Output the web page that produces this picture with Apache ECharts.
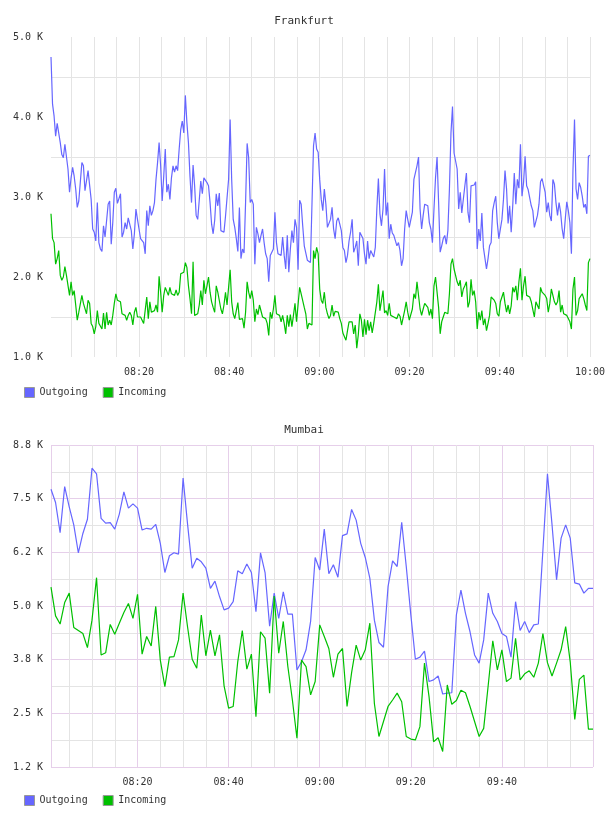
<!DOCTYPE html>
<html>
<head>
<meta charset="utf-8">
<script src="https://cdn.jsdelivr.net/npm/echarts@6/dist/echarts.min.js"></script>
<style>
  html, body { margin: 0; padding: 0; background: #fff; }
  #chart { width: 608px; height: 816px; }
</style>
</head>
<body>
<div id="chart"></div>
<script>
// time on the x axis is minutes after 08:00, values are in thousands
const fraStart = 0.5, fraEnd = 120;
const mumStart = 1, mumEnd = 120;

const fraXTicks = [20, 40, 60, 80, 100, 120];
const fraXLabels = ['08:20', '08:40', '09:00', '09:20', '09:40', '10:00'];
const mumXTicks = [20, 40, 60, 80, 100];
const mumXLabels = ['08:20', '08:40', '09:00', '09:20', '09:40'];

const fraYTicks = [1, 2, 3, 4, 5];
const fraYLabels = ['1.0 K', '2.0 K', '3.0 K', '4.0 K', '5.0 K'];
const mumYTicks = [1.25, 2.5, 3.75, 5, 6.25, 7.5, 8.75];
const mumYLabels = ['1.2 K', '2.5 K', '3.8 K', '5.0 K', '6.2 K', '7.5 K', '8.8 K'];

const fraOutgoing = [
  4.75,4.16,4.01,3.76,3.92,3.92,3.68,3.53,3.49,3.66,
  3.66,3.35,3.06,3.24,3.37,3.26,3.10,2.87,2.95,2.96,
  3.43,3.39,3.08,3.06,3.33,3.35,2.97,2.60,2.56,2.45,
  2.93,2.43,2.35,2.32,2.64,2.50,2.52,2.91,2.95,2.41,
  2.68,3.06,3.11,2.92,2.93,3.04,2.50,2.56,2.68,2.60,
  2.74,2.74,2.58,2.35,2.54,2.85,2.72,2.60,2.48,2.47,
  2.43,2.29,2.83,2.64,2.89,2.77,2.83,2.93,3.22,3.43,
  3.68,3.39,2.95,3.26,3.60,3.06,3.16,2.97,3.24,3.39,
  3.31,3.39,3.33,3.60,3.84,
  3.95,3.80,4.27,3.93,3.68,3.26,2.93,3.40,3.14,2.77,
  2.72,2.74,3.20,3.04,3.24,3.22,3.18,3.14,2.93,2.66,
  2.54,2.71,3.04,2.89,3.05,2.58,2.56,2.56,2.76,2.77,
  3.22,3.97,3.22,2.72,2.62,2.48,2.32,2.87,2.23,2.35,
  2.30,2.93,3.67,3.49,2.93,2.97,2.91,2.16,2.62,2.54,
  2.43,2.52,2.60,2.43,2.29,2.23,1.94,2.27,2.27,2.35,
  2.81,2.43,2.29,2.27,2.27,2.50,2.27,2.10,2.52,2.06,
  2.35,2.58,2.43,2.72,2.62,2.09,2.96,2.91,2.64,2.39,
  2.37,2.21,2.21,2.18,2.16,3.64,
  3.80,3.60,3.56,3.22,2.97,2.83,3.10,2.91,2.62,2.60,
  2.72,2.87,2.60,2.48,2.70,2.74,2.66,2.58,2.37,2.33,
  2.18,2.27,2.45,2.56,2.72,2.31,2.37,2.45,2.14,2.56,
  2.58,2.48,2.29,2.16,2.45,2.23,2.33,2.35,2.25,2.37,
  2.85,3.23,2.79,2.64,2.85,3.35,2.77,2.93,2.48,2.66,
  2.55,2.52,2.50,2.39,2.43,2.33,2.14,2.23,2.60,2.83,
  2.72,2.62,2.60,2.81,3.22,3.22,3.39,3.50,2.85,2.60,
  2.77,2.91,2.90,2.89,2.68,2.60,2.43,2.85,3.24,3.50,
  2.93,2.31,2.39,2.48,2.52,2.41,2.58,3.10,3.80,
  4.13,3.55,3.45,3.35,2.85,3.06,2.80,2.80,3.14,3.30,
  2.81,2.68,3.14,3.13,3.15,3.19,2.35,2.60,2.45,2.80,
  2.37,2.35,2.10,2.23,2.39,2.43,2.83,2.93,3.01,2.68,
  2.48,2.47,2.72,2.97,3.33,3.10,2.67,2.89,2.56,2.89,
  3.30,2.91,3.22,3.11,3.66,3.01,3.18,3.51,3.14,3.09,
  3.08,2.89,2.83,2.62,2.62,2.77,2.91,3.19,3.23,3.14,
  3.06,2.81,2.93,2.77,2.70,3.22,3.16,2.93,2.77,2.93,
  2.81,2.60,2.48,2.72,2.94,2.83,2.68,2.29,3.33,3.97,
  3.10,2.97,3.18,3.12,3.01,2.87,2.91,2.79,3.51,3.52
];

const fraIncoming = [
  2.79,2.48,2.43,2.16,2.23,2.33,2.02,1.96,2.00,2.13,
  2.02,2.00,1.77,1.94,1.77,1.83,1.65,1.46,1.56,1.57,
  1.77,1.67,1.65,1.54,1.71,1.67,1.42,1.38,1.29,1.38,
  1.58,1.42,1.40,1.35,1.55,1.35,1.56,1.40,1.46,1.40,
  1.52,1.67,1.79,1.71,1.71,1.69,1.54,1.53,1.52,1.46,
  1.52,1.56,1.52,1.40,1.56,1.62,1.50,1.52,1.50,1.49,
  1.42,1.40,1.75,1.48,1.69,1.56,1.56,1.58,1.65,1.56,
  2.01,1.81,1.56,1.77,1.87,1.87,1.77,1.87,1.79,1.81,
  1.77,1.84,1.77,1.81,2.04,
  2.06,2.06,2.18,2.12,1.89,1.73,1.54,2.19,1.52,1.51,
  1.54,1.65,1.83,1.65,1.96,1.79,1.89,2.00,1.81,1.69,
  1.62,1.56,1.89,1.81,1.81,1.60,1.54,1.65,1.81,1.65,
  1.87,2.09,1.69,1.54,1.48,1.46,1.68,1.47,1.46,1.48,
  1.36,1.56,1.94,1.81,1.73,1.83,1.71,1.44,1.60,1.53,
  1.65,1.65,1.50,1.48,1.48,1.42,1.27,1.56,1.48,1.60,
  1.77,1.54,1.54,1.52,1.44,1.52,1.42,1.29,1.52,1.38,
  1.53,1.38,1.52,1.67,1.44,1.44,1.87,1.79,1.77,1.62,
  1.54,1.35,1.42,1.40,1.40,2.33,
  2.23,2.37,2.29,1.85,1.71,1.67,1.81,1.62,1.54,1.48,
  1.52,1.65,1.51,1.57,1.56,1.56,1.48,1.42,1.30,1.29,
  1.21,1.33,1.44,1.46,1.44,1.29,1.40,1.11,1.28,1.54,
  1.46,1.25,1.47,1.28,1.46,1.33,1.44,1.30,1.42,1.44,
  1.69,1.91,1.58,1.60,1.83,1.55,1.58,1.52,1.67,1.52,
  1.51,1.50,1.52,1.48,1.54,1.51,1.40,1.42,1.58,1.69,
  1.56,1.46,1.44,1.60,1.79,1.73,1.94,1.94,1.60,1.52,
  1.60,1.67,1.68,1.62,1.52,1.60,1.48,1.89,2.00,2.02,
  1.62,1.29,1.44,1.44,1.56,1.54,1.54,1.79,2.16,
  2.23,2.10,2.09,1.94,1.89,1.96,1.75,1.85,1.89,1.94,
  1.62,1.69,1.97,1.77,1.83,1.69,1.35,1.56,1.46,1.58,
  1.40,1.48,1.33,1.42,1.52,1.75,1.73,1.71,1.67,1.54,
  1.51,1.69,1.69,1.81,1.67,1.56,1.65,1.54,1.64,1.87,
  1.81,1.89,1.71,1.94,2.11,1.71,1.89,2.01,1.77,1.77,
  1.75,1.69,1.71,1.50,1.69,1.71,1.60,1.87,1.81,1.79,
  1.77,1.73,1.56,1.67,1.85,1.77,1.69,1.65,1.69,1.83,
  1.56,1.65,1.54,1.52,1.52,1.48,1.44,1.35,1.85,2.00,
  1.52,1.58,1.73,1.71,1.79,1.73,1.65,1.58,2.18,2.23
];

const mumOutgoing = [
  7.72,7.41,6.71,7.78,7.31,6.89,6.24,6.69,7.02,8.21,
  8.08,7.04,6.93,6.94,6.79,7.14,7.66,7.28,7.38,7.28,
  6.77,6.81,6.79,6.90,6.46,5.78,6.17,6.24,6.21,7.98,
  6.89,5.88,6.11,6.03,5.88,5.41,5.58,5.22,4.91,4.95,
  5.10,5.82,5.75,5.98,5.78,4.87,6.24,5.78,4.53,5.30,
  4.71,5.33,4.81,4.81,3.51,3.70,3.98,4.64,6.13,5.84,
  6.79,5.75,5.96,5.67,6.64,6.68,7.25,7.00,6.46,6.13,
  5.65,4.67,4.15,4.04,5.45,6.05,5.92,6.95,5.92,4.80,
  3.76,3.81,3.95,3.24,3.28,3.37,2.95,2.97,2.98,4.79,
  5.37,4.83,4.40,3.86,3.67,4.21,5.30,4.83,4.64,4.36,
  4.29,3.81,5.10,4.43,4.64,4.38,4.56,4.58,6.30,8.08,
  6.90,5.61,6.58,6.89,6.58,5.54,5.51,5.30,5.41,5.41
];

const mumIncoming = [
  5.44,4.77,4.58,5.08,5.30,4.50,4.43,4.36,4.03,4.67,
  5.66,3.86,3.91,4.57,4.34,4.60,4.85,5.06,4.71,5.27,
  3.88,4.29,4.07,4.99,3.74,3.12,3.81,3.82,4.21,5.30,
  4.50,3.76,3.55,4.79,3.84,4.44,3.84,4.33,3.14,2.62,
  2.66,3.70,4.43,3.53,3.88,2.42,4.40,4.25,2.97,5.23,
  3.90,4.64,3.59,2.81,1.92,3.74,3.59,2.93,3.24,4.56,
  4.29,4.01,3.34,3.88,4.01,2.66,3.45,4.09,3.74,3.98,
  4.60,2.73,1.96,2.31,2.66,2.81,2.97,2.77,1.96,1.90,
  1.88,2.19,3.67,2.89,1.84,1.93,1.61,3.16,2.71,2.80,
  3.04,2.98,2.66,2.31,1.96,2.15,3.16,4.19,3.51,3.98,
  3.24,3.32,4.25,3.28,3.42,3.49,3.34,3.67,4.36,3.68,
  3.37,3.67,3.98,4.52,3.70,2.36,3.29,3.39,2.13,2.13
];

const FONT = '"DejaVu Sans Mono", monospace';
const BLUE = '#6666ff';
const GREEN = '#00c000';
const GREY = '#e4e4e4';
const PURPLE = '#e6cfea';
const NONE = 'rgba(0,0,0,0)';

// spread the samples evenly over the time span of each panel
function toPairs(values, start, end) {
  const step = (end - start) / (values.length - 1);
  return values.map((v, i) => [start + i * step, v]);
}

function pick(ticks, labels) {
  return (v) => {
    const i = ticks.findIndex((t) => Math.abs(t - v) < 1e-6);
    return i < 0 ? '' : labels[i];
  };
}

const labelStyle = { color: '#333', fontFamily: FONT, fontSize: 10 };
const titleStyle = { fontFamily: FONT, fontSize: 11, fontWeight: 'normal', color: '#333' };

const fraXColors = [NONE];
for (let i = 0; i < 30; i++) fraXColors.push(GREY);

function legendAt(top) {
  return {
    data: ['Outgoing', 'Incoming'], left: 24, top: top, padding: 0,
    icon: 'rect', itemWidth: 10, itemHeight: 10, itemGap: 15,
    itemStyle: { borderColor: '#999', borderWidth: 1 },
    textStyle: labelStyle
  };
}

const chart = echarts.init(document.getElementById('chart'), null, { renderer: 'canvas' });

const option = {
  animation: false,
  backgroundColor: '#fff',
  title: [
    { text: 'Frankfurt', left: 'center', top: 11, textStyle: titleStyle },
    { text: 'Mumbai', left: 'center', top: 420, textStyle: titleStyle }
  ],
  legend: [legendAt(387), legendAt(795)],
  grid: [
    { left: 51, top: 37, width: 541, height: 320 },
    { left: 51, top: 445, width: 542, height: 322 }
  ],
  xAxis: [
    {
      type: 'value', gridIndex: 0, min: fraStart, max: fraEnd,
      splitNumber: 24, minInterval: 5, maxInterval: 5,
      axisLine: { show: false }, axisTick: { show: false },
      axisLabel: Object.assign({ formatter: pick(fraXTicks, fraXLabels), margin: 10 }, labelStyle),
      splitLine: { show: true, lineStyle: { color: fraXColors, width: 1 } }
    },
    {
      type: 'value', gridIndex: 1, min: mumStart, max: mumEnd,
      splitNumber: 24, minInterval: 5, maxInterval: 5,
      axisLine: { show: false }, axisTick: { show: false },
      axisLabel: Object.assign({ formatter: pick(mumXTicks, mumXLabels), margin: 10 }, labelStyle),
      splitLine: { show: true, lineStyle: { color: [PURPLE, GREY, GREY, GREY], width: 1 } }
    }
  ],
  yAxis: [
    {
      type: 'value', gridIndex: 0, min: 1, max: 5, interval: 0.5,
      axisLine: { show: false }, axisTick: { show: false },
      axisLabel: Object.assign({ formatter: pick(fraYTicks, fraYLabels), margin: 8 }, labelStyle),
      splitLine: { show: true, lineStyle: { color: [NONE, GREY], width: 1 } }
    },
    {
      type: 'value', gridIndex: 1, min: 1.25, max: 8.75, interval: 0.625,
      axisLine: { show: false }, axisTick: { show: false },
      axisLabel: Object.assign({ formatter: pick(mumYTicks, mumYLabels), margin: 8 }, labelStyle),
      splitLine: { show: true, lineStyle: { color: [PURPLE, GREY], width: 1 } }
    }
  ],
  series: [
    {
      name: 'Outgoing', type: 'line', xAxisIndex: 0, yAxisIndex: 0,
      showSymbol: false, color: BLUE, lineStyle: { width: 1.2 },
      data: toPairs(fraOutgoing, fraStart, fraEnd)
    },
    {
      name: 'Incoming', type: 'line', xAxisIndex: 0, yAxisIndex: 0,
      showSymbol: false, color: GREEN, lineStyle: { width: 1.2 },
      data: toPairs(fraIncoming, fraStart, fraEnd)
    },
    {
      name: 'Outgoing', type: 'line', xAxisIndex: 1, yAxisIndex: 1,
      showSymbol: false, color: BLUE, lineStyle: { width: 1.2 },
      data: toPairs(mumOutgoing, mumStart, mumEnd)
    },
    {
      name: 'Incoming', type: 'line', xAxisIndex: 1, yAxisIndex: 1,
      showSymbol: false, color: GREEN, lineStyle: { width: 1.2 },
      data: toPairs(mumIncoming, mumStart, mumEnd)
    }
  ]
};

chart.setOption(option);
</script>
</body>
</html>
